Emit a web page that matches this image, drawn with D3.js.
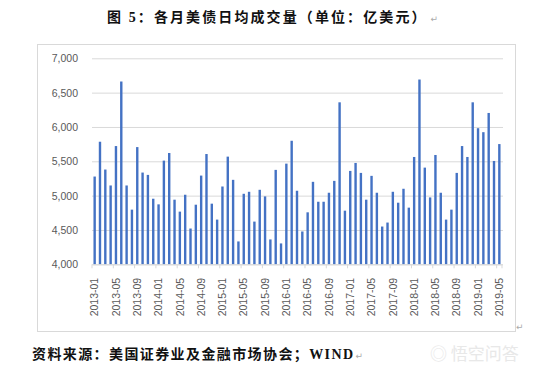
<!DOCTYPE html>
<html>
<head>
<meta charset="utf-8">
<script src="https://cdn.jsdelivr.net/npm/d3@7/dist/d3.min.js"></script>
<style>
  html, body { margin: 0; padding: 0; background: #fff; }
  svg { display: block; }
</style>
</head>
<body>
<svg id="chart" width="543" height="374"></svg>
<script>
// ---- Data ----
const months = [];
for (let yr = 2013; yr <= 2019; yr++) {
  for (let m = 1; m <= 12; m++) {
    if (yr === 2019 && m > 5) break;
    months.push(yr + "-" + String(m).padStart(2, "0"));
  }
}
const volumes = [
  5278, 5785, 5380, 5148, 5722, 6662, 5148, 4796, 5707, 5336, 5302, 4955,
  4873, 5510, 5621, 4941, 4767, 5013, 4521, 4868, 5292, 5606, 4883, 4651,
  5133, 5568, 5230, 4333, 5027, 5056, 4622, 5085, 4989, 4362, 5375, 4304,
  5466, 5799, 5071, 4478, 4757, 5201, 4911, 4911, 5042, 5215, 6359, 4781,
  5360, 5476, 5331, 4941, 5288, 5042, 4550, 4608, 5056, 4897, 5100, 4825,
  5563, 6691, 5408, 4974, 5592, 5042, 4651, 4796, 5331, 5722, 5563, 6359,
  5982, 5924, 6204, 5505, 5751
];
const xTickLabels = months.filter((d, i) => i % 4 === 0);
const yTicks = [4000, 4500, 5000, 5500, 6000, 6500, 7000];
const titleText = "图 5：各月美债日均成交量（单位：亿美元）";
const sourceText = "资料来源：美国证券业及金融市场协会；WIND";

// ---- Layout ----
const svg = d3.select("#chart");
const pLeft = 92, pRight = 502, pTop = 58.3, pBottom = 264.3;
const gridColor = "#d9d9d9";
const textColor = "#595959";
const fontLatin = "'Liberation Sans', Arial, sans-serif";

// chart frame
svg.append("rect")
  .attr("x", 37.5).attr("y", 44.5)
  .attr("width", 478).attr("height", 287)
  .attr("fill", "#fff").attr("stroke", "#d9d9d9").attr("stroke-width", 1);

const x = d3.scaleBand().domain(months).range([pLeft, pRight])
  .paddingInner(0.55).paddingOuter(0.275);
const y = d3.scaleLinear().domain([4000, 7000]).range([pBottom, pTop]);

// gridlines
svg.append("g")
  .attr("transform", `translate(${pLeft},0)`)
  .call(d3.axisLeft(y).tickValues(yTicks).tickSize(-(pRight - pLeft + 1)).tickFormat(""))
  .call(g => g.select(".domain").remove())
  .call(g => g.selectAll("line").attr("stroke", gridColor));

// y-axis labels
svg.append("g")
  .attr("transform", `translate(${pLeft},0)`)
  .call(d3.axisLeft(y).tickValues(yTicks).tickSize(0).tickPadding(14).tickFormat(d3.format(",")))
  .call(g => g.select(".domain").remove())
  .call(g => g.selectAll("text")
    .attr("fill", textColor)
    .style("font-family", fontLatin)
    .style("font-size", "10.5px"));

// bars
svg.append("g").selectAll("rect")
  .data(months.map((m, i) => ({ m, v: volumes[i] })))
  .join("rect")
  .attr("x", d => x(d.m))
  .attr("width", x.bandwidth())
  .attr("y", d => y(d.v))
  .attr("height", d => y(4000) - y(d.v))
  .attr("fill", "#4472c4");

// x-axis
const xAxisG = svg.append("g")
  .attr("transform", `translate(0,${pBottom})`)
  .call(d3.axisBottom(x).tickValues(xTickLabels).tickSize(0).tickPadding(0));
xAxisG.select(".domain").attr("stroke", gridColor);
xAxisG.selectAll("text")
  .attr("fill", textColor)
  .style("font-family", fontLatin)
  .style("font-size", "10.5px")
  .attr("transform", "rotate(-90)")
  .attr("text-anchor", "end")
  .attr("x", -13.5)
  .attr("y", 0)
  .attr("dy", "0.35em");

// category tick marks every 4 months
const boundary = m => x(m) - x.step() * x.paddingInner() / 2;
const tickPos = xTickLabels.map(boundary).concat([pRight]);
svg.append("g").selectAll("line")
  .data(tickPos)
  .join("line")
  .attr("x1", d => d).attr("x2", d => d)
  .attr("y1", pBottom).attr("y2", pBottom + 4)
  .attr("stroke", gridColor);

// title
const ttl = svg.append("text")
  .attr("x", 107).attr("y", 22)
  .attr("fill", "#111")
  .style("font-family", "'Liberation Serif', 'Noto Sans CJK SC', serif")
  .style("font-weight", "bold")
  .style("font-size", "14px")
  .style("letter-spacing", "2.1px")
  .text(titleText);
const ttlEnd = 107 + ttl.node().getComputedTextLength();
svg.append("text")
  .attr("x", ttlEnd + 3).attr("y", 22)
  .attr("fill", "#aaa")
  .style("font-family", "'DejaVu Sans', sans-serif")
  .style("font-size", "9px")
  .text("↵");

// paragraph mark after chart
svg.append("text")
  .attr("x", 516).attr("y", 330)
  .attr("fill", "#aaa")
  .style("font-family", "'DejaVu Sans', sans-serif")
  .style("font-size", "9px")
  .text("↵");

// source
const src = svg.append("text")
  .attr("x", 32).attr("y", 359)
  .attr("fill", "#111")
  .style("font-family", "'Liberation Serif', 'Noto Sans CJK SC', serif")
  .style("font-weight", "bold")
  .style("font-size", "14px")
  .style("letter-spacing", "1.4px")
  .text(sourceText);
const srcEnd = 32 + src.node().getComputedTextLength();
svg.append("text")
  .attr("x", srcEnd + 1).attr("y", 359)
  .attr("fill", "#aaa")
  .style("font-family", "'DejaVu Sans', sans-serif")
  .style("font-size", "9px")
  .text("↵");

// watermark
svg.append("text")
  .attr("x", 430).attr("y", 360)
  .attr("fill", "#e8e8e8")
  .style("font-family", "'Noto Sans CJK SC', sans-serif")
  .style("font-size", "17px")
  .text("◎ 悟空问答");
</script>
</body>
</html>
